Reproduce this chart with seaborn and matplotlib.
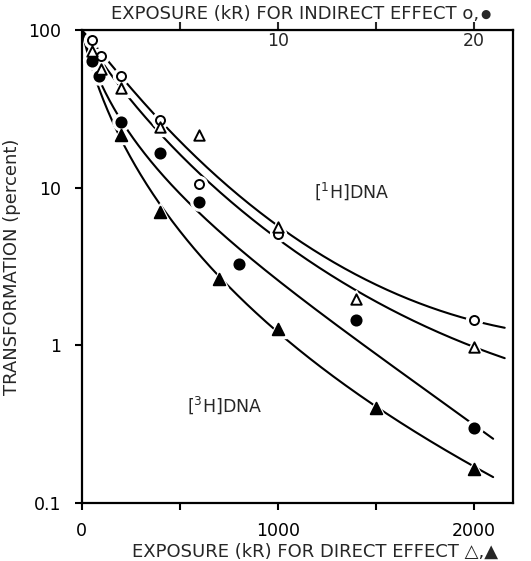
import numpy as np
import pandas as pd
import matplotlib
matplotlib.use("Agg")
import matplotlib.pyplot as plt
import seaborn as sns

# ---- measured points (direct-effect kR scale; indirect kR = direct / 100) ----
oc_x = [50, 100, 200, 400, 600, 1000, 2000]          # open circles (indirect, x100)
oc_y = [86, 68, 51, 27, 10.5, 5.1, 1.44]
fc_x = [50, 90, 200, 400, 600, 800, 1400, 2000]      # filled circles (indirect, x100)
fc_y = [64, 51, 26, 16.6, 8.1, 3.26, 1.44, 0.30]
ot_x = [50, 100, 200, 400, 600, 1000, 1400, 2000]    # open triangles (direct)
ot_y = [74, 57, 42.7, 24.3, 21.5, 5.6, 1.97, 0.98]
ft_x = [200, 400, 700, 1000, 1500, 2000]             # filled triangles (direct)
ft_y = [21.5, 7.0, 2.64, 1.27, 0.40, 0.164]

# ---- hand-drawn fitted curves ----
oc_curve_x = [0, 195, 409, 906, 1009, 1622, 2031, 2158]
oc_curve_y = [100, 50.7, 26.9, 6.9, 5.5, 2.13, 1.43, 1.26]
ot_curve_x = [0, 100, 191, 407, 1009, 1426, 1622, 2039, 2158]
ot_curve_y = [100, 57, 42, 24, 5.0, 1.95, 1.51, 0.975, 0.84]
fc_curve_x = [0, 89, 195, 396, 600, 906, 1264, 1418, 2039, 2099]
fc_curve_y = [100, 50, 25.6, 13, 7.07, 3.3, 1.41, 1.03, 0.30, 0.25]
ft_curve_x = [0, 98, 200, 396, 700, 1000, 1264, 1523, 2039, 2099]
ft_curve_y = [100, 45, 21.5, 6.9, 2.64, 1.27, 0.676, 0.40, 0.164, 0.14]


def smooth_curve(xs, ys, x_end, deg=3, x0=60.0):
    """Least-squares smooth through the curve readings:
    log10(y) as a polynomial in v = sqrt(x + x0) - sqrt(x0), with y(0)=100."""
    xs = np.asarray(xs, float); ys = np.asarray(ys, float)
    v = np.sqrt(xs + x0) - np.sqrt(x0)
    X = np.vstack([v ** k for k in range(1, deg + 1)]).T
    coef, *_ = np.linalg.lstsq(X, np.log10(ys) - 2.0, rcond=None)
    xx = np.linspace(0, x_end, 400)
    vv = np.sqrt(xx + x0) - np.sqrt(x0)
    XX = np.vstack([vv ** k for k in range(1, deg + 1)]).T
    return xx, 10 ** (2.0 + XX @ coef)


sns.set_style("ticks")
plt.rcParams['font.family'] = ['DejaVu Sans']

fig = plt.figure(figsize=(5.31, 5.61), dpi=100)
ax = fig.add_axes([0.154, 0.1034, 0.812, 0.8430])

curves = [
    smooth_curve(oc_curve_x, oc_curve_y, max(oc_curve_x)),
    smooth_curve(ot_curve_x, ot_curve_y, max(ot_curve_x)),
    smooth_curve(fc_curve_x, fc_curve_y, max(fc_curve_x)),
    smooth_curve(ft_curve_x, ft_curve_y, max(ft_curve_x)),
]
for xx, yy in curves:
    sns.lineplot(x=xx, y=yy, ax=ax, color="black", lw=1.5, zorder=2,
                 estimator=None, sort=False)

series = [
    (oc_x, oc_y, "o", "white", 6.5),
    (fc_x, fc_y, "o", "black", 7.3),
    (ot_x, ot_y, "^", "white", 7.5),
    (ft_x, ft_y, "^", "black", 8.3),
]
for xs, ys, m, fc, ms in series:
    ax.plot(xs, ys, ls="none", marker=m, ms=ms + 5, mfc="white", mec="white", zorder=3)
for xs, ys, m, fc, ms in series:
    sns.scatterplot(x=xs, y=ys, ax=ax, marker=m, s=ms ** 2, color=fc,
                    edgecolor="black", linewidth=1.4, zorder=4)

ax.set_yscale("log")
ax.set_xlim(0, 2200)
ax.set_ylim(0.1, 100)
ax.set_yticks([0.1, 1, 10, 100])
ax.set_yticklabels(["0.1", "1", "10", "100"])
ax.yaxis.set_minor_locator(matplotlib.ticker.NullLocator())
ax.set_xticks([0, 500, 1000, 1500, 2000])
ax.set_xticklabels(["0", "", "1000", "", "2000"])
ax.tick_params(axis="both", direction="out", length=5, width=1.5,
               labelsize=12.5, colors="black")
ax.tick_params(axis="x", pad=9)
ax.tick_params(axis="y", pad=10)
for s in ax.spines.values():
    s.set_visible(True)
    s.set_linewidth(1.6)
    s.set_color("black")

top = ax.secondary_xaxis("top", functions=(lambda v: v / 100.0, lambda v: v * 100.0))
top.set_xticks([5, 10, 15, 20])
top.set_xticklabels(["", "10", "", "20"])
top.tick_params(direction="out", length=6, width=1.5, labelsize=12.5, pad=-20)

ax.set_ylabel("TRANSFORMATION (percent)", fontsize=13)
ax.yaxis.set_label_coords(-0.142, 0.5)
ax.set_xlabel("EXPOSURE (kR) FOR DIRECT EFFECT \u25b3,\u25b2", fontsize=13)
ax.xaxis.set_label_coords(0.54, -0.085)

title = fig.text(0.555, 0.975, "EXPOSURE (kR) FOR INDIRECT EFFECT o,",
                 fontsize=13, ha="center", va="center")
ax.annotate("\u25cf", xy=(1.0, 0.12), xycoords=title, xytext=(1, 0),
            textcoords="offset points", fontsize=8.5, ha="left", va="bottom")

ax.text(1376, 9.5, "[$^{1}$H]DNA", fontsize=12.5, ha="center", va="center")
ax.text(728, 0.42, "[$^{3}$H]DNA", fontsize=12.5, ha="center", va="center")

fig.savefig("out.png", dpi=100)
